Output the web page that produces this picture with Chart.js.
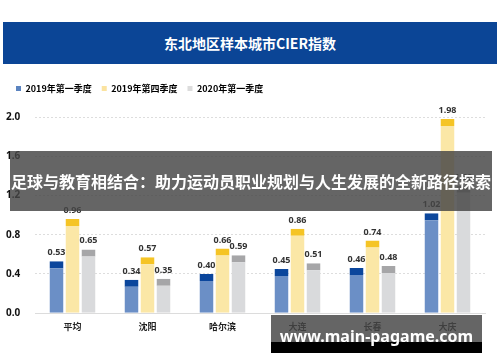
<!DOCTYPE html>
<html>
<head>
<meta charset="utf-8">
<script src="https://cdn.jsdelivr.net/npm/chart.js@4"></script>
<style>
  body { margin: 0; width: 500px; height: 362px; background: #fff; position: relative; overflow: hidden;
         font-family: "Noto Sans CJK SC", "Noto Sans", sans-serif; }
  #header { position: absolute; left: 3px; top: 22px; width: 494px; height: 42px; background: #0b4596;
            color: #fff; font-weight: bold; font-size: 14px; text-align: center; line-height: 42px; }
  #wrap { position: absolute; left: 0; top: 74px; width: 500px; height: 288px; }
  #band { position: absolute; left: 10px; top: 151px; width: 482px; height: 60px; background: rgba(70,70,70,0.83);
          color: #fff; font-weight: bold; font-size: 16px; line-height: 60px; text-align: center; white-space: nowrap; }
  #mark { position: absolute; left: 271px; top: 315px; width: 211px; height: 27px; background: rgba(70,70,70,0.83); }
  #markBottom { position: absolute; left: 271px; top: 342px; width: 211px; height: 11px; background: #000; }
  #markText { position: absolute; left: 271px; top: 326px; width: 211px; text-align: center; color: #fff;
              font-family: "Noto Sans", sans-serif; font-weight: bold; font-size: 16px; line-height: 20px; white-space: nowrap; }
</style>
</head>
<body>
<div id="header">东北地区样本城市CIER指数</div>
<div id="wrap"><canvas id="chart"></canvas></div>
<div id="band">足球与教育相结合：助力运动员职业规划与人生发展的全新路径探索</div>
<div id="mark"></div>
<div id="markBottom"></div>
<div id="markText">www.main-pagame.com</div>
<script>
/* Categories and series. */
const cities = ["平均", "沈阳", "哈尔滨", "大连", "长春", "大庆"]
const q1of2019 = [0.53, 0.34, 0.40, 0.45, 0.46, 1.02]
const q4of2019 = [0.96, 0.57, 0.66, 0.86, 0.74, 1.98]
const q1of2020 = [0.65, 0.35, 0.59, 0.51, 0.48, 1.30]
const yTicks = [0.0, 0.4, 0.8, 1.2, 1.6, 2.0]

/* Plugin to write the values above the bars. */
const valueLabels = {
  id: "valueLabels",
  afterDatasetsDraw(chart) {
    const ctx = chart.ctx
    ctx.save()
    ctx.font = "bold 9px 'Noto Sans', sans-serif"
    ctx.fillStyle = "#333"
    ctx.textAlign = "center"
    ctx.textBaseline = "bottom"
    chart.data.datasets.forEach((ds, i) => {
      chart.getDatasetMeta(i).data.forEach((bar, j) => {
        ctx.fillText(ds.data[j].toFixed(2), bar.x, bar.y - 4)
      })
    })
    ctx.restore()
  }
}

/* Plugin to leave more room under the legend. */
const legendGap = {
  id: "legendGap",
  beforeInit(chart) {
    const fit = chart.legend.fit
    chart.legend.fit = function () {
      fit.bind(chart.legend)()
      this.height += 14
    }
  }
}

const makeSet = (label, data, body, cap, legendColor) => ({
  label,
  data,
  backgroundColor: body,
  borderColor: cap,
  borderWidth: { top: 7, left: 0, right: 0, bottom: 0 },
  borderSkipped: "start",
  legendColor
})

const ctx = document.getElementById("chart").getContext("2d")
const chart = new Chart(ctx, {
  type: "bar",
  data: {
    labels: cities,
    datasets: [
      makeSet("2019年第一季度", q1of2019, "#6b8fc6", "#0b469c", "#5b84c0"),
      makeSet("2019年第四季度", q4of2019, "#fbe7a6", "#f5c425", "#fbe3a0"),
      makeSet("2020年第一季度", q1of2020, "#d9dadc", "#a6a6a8", "#dcdcdc")
    ]
  },
  options: {
    responsive: true,
    maintainAspectRatio: false,
    animation: false,
    categoryPercentage: 0.64,
    barPercentage: 0.875,
    layout: { padding: { left: 6, right: 15, top: 0, bottom: 30 } },
    plugins: {
      tooltip: { enabled: false },
      legend: {
        display: true,
        position: "top",
        align: "start",
        labels: {
          boxWidth: 5,
          boxHeight: 5,
          padding: 10,
          color: "#222",
          font: { size: 9, weight: "bold", family: "'Noto Sans CJK SC', sans-serif" },
          generateLabels: (c) => c.data.datasets.map((ds, i) => ({
            text: ds.label,
            fillStyle: ds.legendColor,
            strokeStyle: ds.legendColor,
            lineWidth: 0,
            datasetIndex: i
          }))
        }
      }
    },
    scales: {
      x: {
        grid: { display: false },
        border: { display: true, color: "#dcdcdc", width: 1 },
        ticks: {
          color: "#222",
          padding: 0,
          font: { size: 9, weight: "bold", family: "'Noto Sans CJK SC', sans-serif" }
        }
      },
      y: {
        min: 0,
        max: 2.0,
        afterBuildTicks: (axis) => { axis.ticks = yTicks.map(v => ({ value: v })) },
        afterFit: (axis) => { axis.width = 29 },
        border: { display: false, dash: [2, 2] },
        grid: { color: "#dddddd", drawTicks: false },
        ticks: {
          color: "#111",
          crossAlign: "far",
          padding: 0,
          font: { size: 10, weight: "bold", family: "'Noto Sans', sans-serif" },
          callback: (v) => v.toFixed(1)
        }
      }
    }
  },
  plugins: [valueLabels, legendGap]
})
</script>
</body>
</html>
